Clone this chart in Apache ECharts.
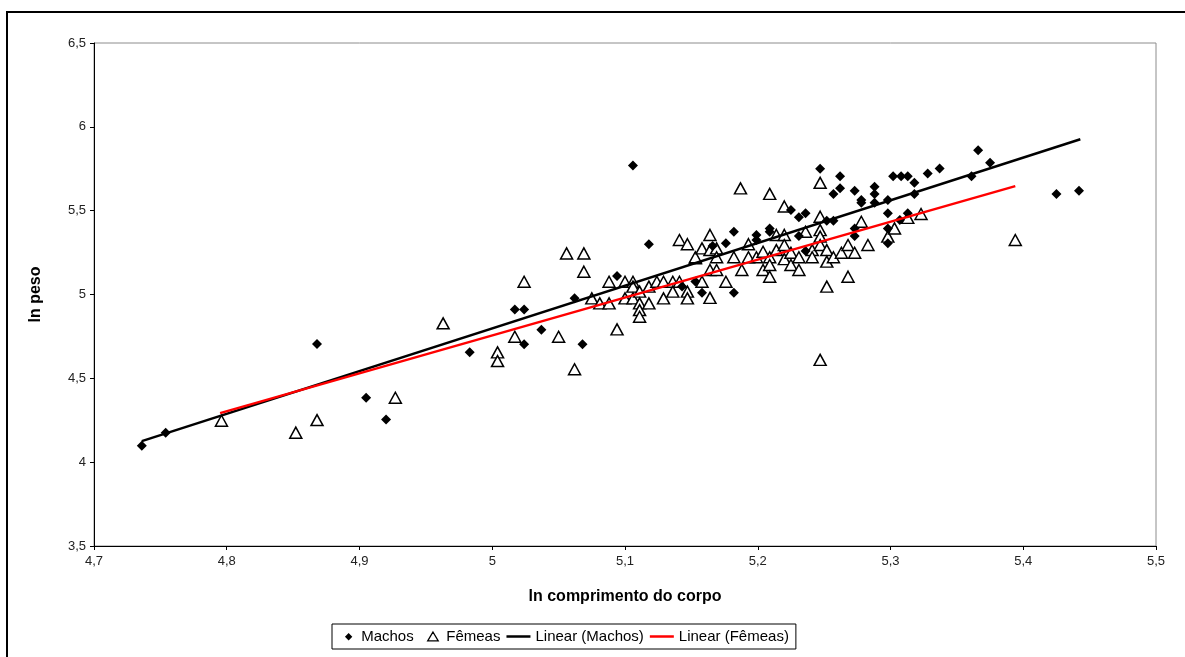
<!DOCTYPE html>
<html>
<head>
<meta charset="utf-8">
<title>ln peso vs ln comprimento do corpo</title>
<script src="https://cdn.jsdelivr.net/npm/echarts@6/dist/echarts.min.js"></script>
<style>
  html, body { margin: 0; padding: 0; background: #fff; }
  #chart { width: 1185px; height: 657px; }
</style>
</head>
<body>
<div id="chart"></div>
<script>
// Machos: [ln comprimento, ln peso]
const machos = [
  [4.736, 4.098], [4.754, 4.176], [4.868, 4.705], [4.905, 4.384], [4.920, 4.255],
  [4.983, 4.655], [5.017, 4.910], [5.024, 4.910], [5.024, 4.703], [5.037, 4.790],
  [5.062, 4.978], [5.068, 4.703], [5.094, 5.110], [5.106, 5.770], [5.118, 5.300],
  [5.143, 5.047], [5.153, 5.078], [5.158, 5.011], [5.166, 5.290], [5.176, 5.305],
  [5.182, 5.374], [5.182, 5.011], [5.199, 5.355], [5.199, 5.325], [5.209, 5.394],
  [5.209, 5.374], [5.225, 5.504], [5.231, 5.460], [5.236, 5.484], [5.231, 5.349],
  [5.236, 5.259], [5.247, 5.750], [5.252, 5.440], [5.257, 5.440], [5.257, 5.600],
  [5.262, 5.706], [5.262, 5.633], [5.273, 5.619], [5.273, 5.394], [5.273, 5.349],
  [5.278, 5.563], [5.278, 5.547], [5.288, 5.642], [5.288, 5.600], [5.288, 5.547],
  [5.298, 5.563], [5.298, 5.484], [5.298, 5.394], [5.298, 5.305], [5.302, 5.706],
  [5.308, 5.706], [5.313, 5.706], [5.318, 5.666], [5.318, 5.600], [5.313, 5.484],
  [5.307, 5.444], [5.328, 5.722], [5.337, 5.752], [5.361, 5.706], [5.366, 5.861],
  [5.375, 5.786], [5.425, 5.600], [5.442, 5.619]
]

// Fêmeas: [ln comprimento, ln peso]
const femeas = [
  [4.796, 4.247], [4.852, 4.176], [4.868, 4.251], [4.927, 4.384], [4.963, 4.828],
  [5.004, 4.655], [5.004, 4.603], [5.017, 4.748], [5.024, 5.076], [5.050, 4.748],
  [5.056, 5.245], [5.069, 5.245], [5.069, 5.136], [5.062, 4.554], [5.075, 4.977],
  [5.081, 4.947], [5.088, 4.947], [5.088, 5.076], [5.094, 4.792], [5.100, 5.076],
  [5.100, 4.977], [5.106, 5.076], [5.106, 5.047], [5.106, 4.977], [5.111, 5.017],
  [5.111, 4.947], [5.111, 4.907], [5.111, 4.867], [5.118, 5.047], [5.118, 4.947],
  [5.124, 5.076], [5.129, 5.076], [5.129, 4.977], [5.136, 5.076], [5.136, 5.017],
  [5.141, 5.076], [5.141, 5.325], [5.147, 5.300], [5.147, 5.017], [5.147, 4.977],
  [5.153, 5.216], [5.153, 5.222], [5.158, 5.275], [5.158, 5.076], [5.164, 5.355],
  [5.164, 5.265], [5.164, 5.146], [5.164, 4.980], [5.169, 5.275], [5.169, 5.222],
  [5.169, 5.146], [5.176, 5.076], [5.182, 5.222], [5.187, 5.633], [5.188, 5.146],
  [5.193, 5.300], [5.193, 5.222], [5.199, 5.222], [5.204, 5.255], [5.204, 5.146],
  [5.209, 5.600], [5.209, 5.222], [5.209, 5.176], [5.209, 5.106], [5.214, 5.355],
  [5.214, 5.265], [5.220, 5.525], [5.220, 5.355], [5.220, 5.295], [5.220, 5.211],
  [5.225, 5.249], [5.225, 5.176], [5.231, 5.222], [5.231, 5.146], [5.236, 5.374],
  [5.241, 5.265], [5.241, 5.222], [5.247, 5.666], [5.247, 5.464], [5.247, 5.384],
  [5.247, 5.345], [5.247, 5.295], [5.247, 4.610], [5.252, 5.265], [5.252, 5.196],
  [5.252, 5.047], [5.257, 5.222], [5.263, 5.249], [5.268, 5.295], [5.268, 5.106],
  [5.273, 5.249], [5.278, 5.434], [5.283, 5.295], [5.298, 5.345], [5.303, 5.394],
  [5.313, 5.457], [5.323, 5.480], [5.394, 5.325]
]

// Trend lines: [slope, intercept, xStart, xEnd]
const fitMachos = [2.547, -7.937, 4.736, 5.443]
const fitFemeas = [2.26, -6.544, 4.795, 5.394]

const xTicks = [4.7, 5.5, 0.1]  // min, max, interval
const yTicks = [3.5, 6.5, 0.5]

const fitLine = (f) => [
  [f[2], f[0] * f[2] + f[1]],
  [f[3], f[0] * f[3] + f[1]],
]

const fmt = (v) => String(+(+v).toFixed(1)).replace('.', ',')

// legend icons: tiny invisible corner specks keep the bounding box at full size
const lineIcon = 'path://M0,0L0.01,0Z M0,3.5L24,3.5L24,6L0,6Z M0,9.5L0.01,9.5Z'
const diamondIcon = 'path://M0,0L0.01,0Z M12,1.5L15.5,5L12,8.5L8.5,5Z M0,9.5L0.01,9.5Z'
const triangleIcon = 'path://M0,0L0.01,0Z M12,0.5L17,9L7,9Z M0,9.5L0.01,9.5Z'

const chart = echarts.init(document.getElementById('chart'))

const font = 'Liberation Sans, Arial, sans-serif'

chart.setOption({
  animation: false,
  backgroundColor: '#fff',
  textStyle: { fontFamily: font },
  grid: {
    left: 94,
    right: 29,
    top: 43,
    bottom: 111,
    show: true,
    borderColor: '#8c8c8c',
    borderWidth: 1,
  },
  xAxis: {
    type: 'value',
    min: xTicks[0],
    max: xTicks[1],
    interval: xTicks[2],
    name: 'ln comprimento do corpo',
    nameLocation: 'middle',
    nameGap: 43,
    nameTextStyle: { fontSize: 16, fontWeight: 'bold', color: '#000', fontFamily: font },
    axisLine: { lineStyle: { color: '#000', width: 1 } },
    axisTick: { show: true, length: 4, lineStyle: { color: '#000' } },
    axisLabel: { fontSize: 13, color: '#222', margin: 9, formatter: fmt },
    splitLine: { show: false },
  },
  yAxis: {
    type: 'value',
    min: yTicks[0],
    max: yTicks[1],
    interval: yTicks[2],
    name: 'ln peso',
    nameLocation: 'middle',
    nameGap: 50,
    nameTextStyle: { fontSize: 16, fontWeight: 'bold', color: '#000', fontFamily: font },
    axisLine: { show: true, lineStyle: { color: '#000', width: 1 } },
    axisTick: { show: true, length: 4, lineStyle: { color: '#000' } },
    axisLabel: { fontSize: 13, color: '#222', margin: 8, formatter: fmt },
    splitLine: { show: false },
  },
  legend: {
    left: 332,
    top: 624,
    itemWidth: 24,
    itemHeight: 10,
    itemGap: 6,
    padding: [5, 7, 5, 4],
    backgroundColor: '#fff',
    borderColor: '#000',
    borderWidth: 1,
    borderRadius: 0,
    textStyle: { fontSize: 15, color: '#000', fontFamily: font },
    data: [
      { name: 'Machos', icon: diamondIcon, itemStyle: { color: '#000', borderWidth: 0 } },
      { name: 'Fêmeas', icon: triangleIcon, itemStyle: { color: '#fff', borderColor: '#000', borderWidth: 1.3 } },
      { name: 'Linear (Machos)', icon: lineIcon, itemStyle: { color: '#000', borderWidth: 0 } },
      { name: 'Linear (Fêmeas)', icon: lineIcon, itemStyle: { color: '#ff0000', borderWidth: 0 } },
    ],
  },
  graphic: [
    {
      type: 'polyline',
      shape: { points: [[7, 660], [7, 12], [1190, 12]] },
      style: { stroke: '#000', lineWidth: 2, fill: null },
      silent: true,
    },
  ],
  series: [
    {
      name: 'Machos',
      type: 'scatter',
      data: machos,
      symbol: 'diamond',
      symbolSize: 10,
      itemStyle: { color: '#000', opacity: 1 },
      z: 4,
    },
    {
      name: 'Fêmeas',
      type: 'scatter',
      data: femeas,
      symbol: 'triangle',
      symbolSize: [12, 11],
      itemStyle: { color: '#fff', borderColor: '#000', borderWidth: 1.5, opacity: 1 },
      z: 3,
    },
    {
      name: 'Linear (Machos)',
      type: 'line',
      data: fitLine(fitMachos),
      symbol: 'none',
      lineStyle: { color: '#000', width: 2.5 },
      itemStyle: { color: '#000' },
      z: 5,
    },
    {
      name: 'Linear (Fêmeas)',
      type: 'line',
      data: fitLine(fitFemeas),
      symbol: 'none',
      lineStyle: { color: '#ff0000', width: 2.5 },
      itemStyle: { color: '#ff0000' },
      z: 5,
    },
  ],
})

window.addEventListener('resize', () => chart.resize())
</script>
</body>
</html>
